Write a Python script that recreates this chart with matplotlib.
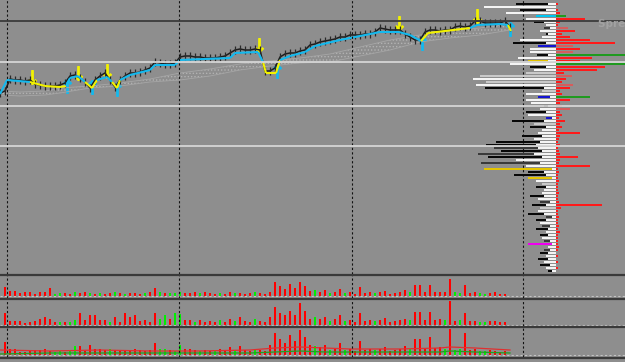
import numpy as np
import matplotlib
matplotlib.use('Agg')
import matplotlib.pyplot as plt

# ---- price data (points), one bar every 5 px ----
close = [207, 209, 221, 220, 220, 219, 220, 216, 215, 214,
         214, 214, 215, 217, 224, 225, 222, 218, 212, 220,
         224, 227, 220, 213, 220, 224, 227, 227, 228, 230,
         232, 238, 237, 236, 236, 237, 243, 244, 244, 243,
         243, 242, 242, 242, 243, 244, 247, 250, 251, 250,
         250, 251, 250, 229, 229, 232, 243, 246, 247, 247,
         249, 250, 255, 256, 258, 259, 260, 261, 263, 263,
         265, 265, 265, 266, 266, 268, 272, 271, 270, 270,
         270, 266, 263, 260, 260, 268, 270, 270, 269, 270,
         270, 273, 274, 273, 274, 279, 279, 277, 277, 277,
         277, 279, 273]

# trend stop line (c = up / cyan, y = down / yellow)
trend_x = [0, 1.4, 6, 9, 12, 13.2, 14, 15.6, 17, 18.4, 19.4, 21.4, 22.4, 23.4,
           24, 26, 30, 31, 35, 36, 46, 47, 51.6, 52.6, 53.2, 55.2, 56, 58, 61,
           63, 68, 76, 79.8, 82, 84.2, 85.6, 94, 95.4, 100, 101.6, 102.2]
trend_y = [206, 220, 218, 214, 213, 214, 222, 224, 218, 212, 220, 223, 218, 212,
           220, 225, 230, 235, 235, 240, 242, 247, 248, 238, 227, 227, 240, 244, 248,
           254, 260, 268, 268, 265, 259, 267, 272, 275, 276, 275, 269]
trend_state = "cccyyycccyyccyycccccccccyyyccccccccyycccyyc"

sell_x = [6.4, 15.6, 21.4, 51.8, 79.8, 95.4]
sell_y = [223, 227, 229, 255, 277, 284]
buy_x = [13.4, 18.4, 23.4, 55.4, 84.4, 102]
buy_y = [214, 213, 211, 229, 257, 271]

# gray cloud band
cloud_x = [0, 4, 9, 12, 18, 24, 30, 36, 42, 48, 54, 60, 66, 72, 78, 84, 90, 96, 102]
cloud_top = [209, 208, 209, 212, 214, 217, 221, 227, 231, 236, 239, 242, 246, 253, 260, 265, 269, 272, 276]
cloud_bot = [205, 204, 205, 207, 212, 214, 218, 220, 224, 230, 234, 237, 238, 244, 250, 258, 262, 265, 270]

dark_level = 279
levels = [238, 194, 154]
day_sep = [1.4, 35.8, 70.4, 104.6]

# ---- market profile (rows every 3 points from 296 down) ----
prof_left = [40, 72, 36, 50, 20, 30, 22, 10, 12, 16,
             10, 14, 36, 43, 18, 26, 26, 19, 38, 28,
             46, 26, 22, 30, 76, 83, 70, 80, 71, 14,
             30, 18, 30, 25, 12, 16, 30, 28, 10, 44,
             22, 26, 14, 18, 34, 22, 60, 70, 62, 55,
             78, 68, 40, 75, 30, 72, 28, 42, 28, 20,
             14, 20, 12, 14, 26, 18, 16, 24, 16, 18,
             28, 10, 20, 16, 14, 20, 10, 16, 14, 12,
             28, 8, 12, 16, 10, 18, 12, 16, 10, 8]
prof_col = ("kwkwcwkwdw" "kwwkbwwkwy" "wkwllwlwkl" "wbwwkwkwbk" "lkwwkwkkdk"
            "dkwdwykkyw" "lkwwkwdklw" "kdkwdkwkwd" "mwdkwkwkwk")
prof_inner = [8, 0, 10, 0, 0, 0, 12, 0, 6, 0,
              8, 0, 0, 10, 0, 0, 0, 8, 0, 8,
              0, 10, 0, 0, 0, 0, 0, 0, 12, 0,
              0, 6, 0, 0, 8, 0, 10, 0, 4, 12,
              0, 10, 0, 0, 14, 0, 16, 20, 18, 14,
              22, 14, 0, 16, 0, 4, 12, 10, 4, 0,
              0, 10, 0, 0, 12, 0, 6, 10, 0, 0,
              12, 4, 10, 0, 6, 8, 0, 8, 0, 6,
              4, 0, 6, 8, 0, 8, 0, 6, 0, 4]
prof_right = [2, 0, 2, 4, 10, 29, 4, 2, 12, 19,
              6, 14, 34, 59, 17, 24, 17, 69, 36, 24,
              69, 49, 41, 8, 16, 10, 6, 17, 14, 4,
              6, 34, 14, 4, 6, 14, 4, 6, 3, 9,
              4, 6, 3, 24, 4, 3, 2, 4, 2, 3,
              4, 22, 4, 3, 34, 2, 3, 2, 2, 3,
              2, 2, 2, 3, 2, 2, 3, 46, 5, 2,
              2, 3, 2, 2, 3, 2, 4, 2, 2, 2,
              2, 3, 2, 0, 2, 0, 2, 0, 2, 0]
prof_rcol = "rrrrgrrrpr" "rrrrprpgrr" "grrrprrprr" "rgrrrprrrr" + "r" * 50

# ---- three volume panels ----
vol1 = [9, 5, 5, 3, 4, 4, 2, 4, 4, 8, 2, 3, 3, 2, 4, 3, 4, 3, 2, 3,
        2, 3, 4, 3, 2, 3, 3, 2, 3, 4, 8, 4, 3, 3, 3, 4, 3, 3, 4, 3,
        4, 3, 2, 3, 2, 4, 3, 3, 2, 3, 4, 3, 2, 4, 14, 10, 7, 12, 8, 14,
        10, 5, 6, 4, 6, 3, 4, 7, 3, 4, 2, 9, 3, 4, 3, 4, 5, 2, 3, 4,
        6, 4, 11, 11, 4, 11, 4, 4, 4, 17, 4, 3, 11, 3, 4, 3, 2, 3, 4, 2, 2]
col1 = ("rrrrrrrrrr" "ggrrgrrgrg" "rrgrgrrrgr" "rgrgggrrrg" "rrrgrrgrrr"
        "grrrrrrrrr" "rrgrrgrrgr" "rrrrgrrrrr" "rgrrrrrrrr" "ggrrrggrrr" "r")
vol2 = [12, 4, 4, 4, 2, 3, 4, 6, 8, 6, 3, 3, 3, 3, 5, 12, 5, 10, 10, 5,
        5, 3, 8, 3, 12, 8, 10, 4, 5, 3, 12, 6, 10, 6, 12, 11, 5, 5, 3, 5,
        3, 4, 3, 5, 3, 6, 4, 8, 4, 3, 6, 4, 3, 8, 18, 12, 10, 14, 10, 22,
        14, 6, 8, 6, 8, 4, 6, 10, 4, 5, 3, 12, 4, 5, 4, 5, 7, 3, 4, 5,
        6, 5, 13, 13, 5, 13, 5, 6, 5, 24, 4, 5, 12, 4, 4, 3, 3, 4, 4, 3, 3]
col2 = ("rrrrrrrrrr" "rgrggrrrrr" "rgrrrrrrrr" "rggrggrrgr" "rrrgrrgrrr"
        "grrrrrrrrr" "rrgrrgrrgr" "rrrrgrrrrr" "rgrrrrrrgr" "rgrrrggrrr" "r")
vol3 = [13, 6, 6, 3, 3, 4, 5, 5, 6, 4, 3, 4, 3, 4, 9, 9, 4, 10, 6, 6,
        5, 6, 5, 4, 4, 5, 6, 5, 4, 5, 12, 6, 6, 5, 4, 10, 6, 6, 5, 4,
        5, 4, 4, 6, 4, 8, 5, 9, 5, 4, 6, 5, 4, 10, 22, 16, 12, 20, 14, 25,
        18, 10, 9, 8, 10, 5, 7, 12, 5, 6, 4, 14, 5, 6, 5, 6, 8, 4, 5, 6,
        9, 6, 16, 16, 6, 18, 7, 8, 6, 26, 5, 6, 22, 5, 6, 4, 4, 5, 4, 3, 4]
col3 = ("rrrrrrrrrr" "ggrggrrrrr" "rgrrrrrrrr" "rggrggrrrg" "rrgrrrgrrr"
        "grrrrrrrrr" "rrgrrgrrgr" "rrrrgrrrrr" "rgrrrrrrgr" "ggrrrggrrr" "r")
ma_x = [0, 10, 20, 30, 40, 50, 55, 60, 65, 70, 80, 88, 90, 95, 102]
ma_red = [5, 4, 5, 4, 4, 5, 7, 8, 7, 6, 6, 7, 8, 7, 5]
ma_green = [1, 2, 2, 2, 2, 2, 3, 4, 3, 3, 3, 3, 4, 3, 2]

# ---- drawing ----
W, H = 625, 362
bg = '#8e8e8e'
plt.rcParams['hatch.linewidth'] = 0.6
fig = plt.figure(figsize=(W / 100, H / 100), dpi=100)
fig.patch.set_facecolor(bg)


def px_axes(top, bottom):
    a = fig.add_axes([0, 1 - bottom / H, 1, (bottom - top) / H])
    a.set_axis_off()
    a.set_xlim(0, W / 5)
    return a


ax = px_axes(0, 274)
ax.set_ylim(26, 300)

ax.fill_between(cloud_x, cloud_bot, cloud_top, facecolor='none', edgecolor='#b2b2b2',
                hatch='.....', lw=0)
ax.plot(cloud_x, cloud_top, color='#a6a6a6', lw=0.6)
ax.plot(cloud_x, cloud_bot, color='#a6a6a6', lw=0.6)

xi = np.arange(len(close))
ax.plot(xi, close, color='#1e1e1e', lw=1.1)
ax.plot(xi, close, ls='none', marker='|', ms=6, mew=0.9, color='#2a2a2a')

tcol = {'c': '#14b9ee', 'y': '#f2f200'}
for i in range(len(trend_x) - 1):
    ax.plot(trend_x[i:i + 2], trend_y[i:i + 2], color=tcol[trend_state[i + 1]],
            lw=1.5, solid_capstyle='butt')
ax.scatter(sell_x, sell_y, marker=r'$\downarrow$', s=100, color='#f2f200', linewidths=0.8)
ax.scatter(buy_x, buy_y, marker=r'$\uparrow$', s=100, color='#14b9ee', linewidths=0.8)

# profile on its own overlay, anchored at x = 556 px
axp = fig.add_axes(ax.get_position())
axp.set_axis_off()
axp.set_xlim(-556, W - 556)
axp.set_ylim(26, 300)
rows = 296 - 3 * np.arange(len(prof_left))
pc = {'w': '#f4f4f4', 'l': '#c9c9c9', 'k': '#080808', 'd': '#3a3a3a', 'c': '#00c6f2',
      'y': '#e4c400', 'b': '#1414d2', 'm': '#f000f0'}
rc = {'r': '#ff1a1a', 'p': '#d65c5c', 'g': '#1f9a1f'}
axp.barh(rows, [-v for v in prof_left], height=2.4, color=[pc[c] for c in prof_col])
axp.barh(rows, [-v for v in prof_inner], height=2.4, color='#f4f4f4')
axp.barh(rows, prof_right, height=2.0, color=[rc[c] for c in prof_rcol])

axp.axhline(dark_level, color='#3c3c3c', lw=1.3)
for lv in levels:
    axp.axhline(lv, color='#d6d6d6', lw=1.3)

vc = {'r': '#ff0000', 'g': '#00f000'}
panels = [(275, 298, -2, 21, vol1, col1), (299, 326, -1, 26, vol2, col2),
          (327, 357, -2, 28, vol3, col3)]
vax = []
for top, bottom, lo, hi, vol, col in panels:
    a = px_axes(top, bottom)
    a.set_ylim(lo, hi)
    a.bar(np.arange(1, len(vol) + 1), vol, width=0.55, color=[vc[c] for c in col])
    a.axhline(0, color='#c4c4c4', lw=0.8, ls=(0, (2, 2)))
    vax.append(a)
vax[2].plot(ma_x, ma_red, color='#e03030', lw=0.9)
vax[2].plot(ma_x, ma_green, color='#20a020', lw=0.9)

for a in [ax] + vax:
    for d in day_sep:
        a.axvline(d, color='#111111', lw=0.8, ls=(0, (2, 2)))

# panel separators
for y in [274.5, 299, 326.5, 357.5]:
    fig.add_artist(plt.Line2D([0, 1], [1 - y / H, 1 - y / H], transform=fig.transFigure,
                              color='#3a3a3a', lw=1.6))

fig.text(598 / W, 1 - 24 / H, 'Spread: 0', fontsize=7.5, fontweight='bold',
         color='#a2a2a2', va='center', ha='left')

fig.savefig('out.png', dpi=100, facecolor=bg)
